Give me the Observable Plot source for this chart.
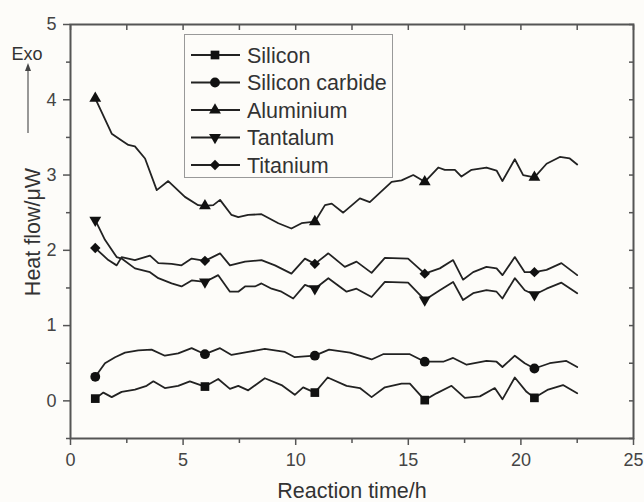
<!DOCTYPE html>
<html><head><meta charset="utf-8">
<script src="https://cdn.jsdelivr.net/npm/d3@7"></script>
<script src="https://cdn.jsdelivr.net/npm/@observablehq/plot@0.6"></script>
<style>
html,body{margin:0;padding:0;background:#fdfcf9;}
#chart{width:644px;height:502px;}
svg{overflow:visible}
</style></head><body><div id="chart"></div>
<script>
const seriesNames = ["Silicon", "Silicon carbide", "Aluminium", "Tantalum", "Titanium"];
const markerTimes = [1.1, 5.97, 10.85, 15.73, 20.6];
const xMajor = [0, 5, 10, 15, 20, 25];
const xMinor = [2.5, 7.5, 12.5, 17.5, 22.5];
const yMajor = [0, 1, 2, 3, 4, 5];
const yMinor = [-0.5, 0.5, 1.5, 2.5, 3.5, 4.5];
const xTitle = "Reaction time/h";
const yTitle = "Heat flow/\u03bcW";
const exoLabel = "Exo";

const silicon = [[1.1,0.03],[1.46,0.11],[1.83,0.05],[2.27,0.12],[2.86,0.15],[3.38,0.20],[3.68,0.26],[4.19,0.17],[4.78,0.20],[5.30,0.26],[5.97,0.19],[6.56,0.29],[7.08,0.16],[7.45,0.20],[7.89,0.14],[8.63,0.30],[9.37,0.21],[9.96,0.08],[10.33,0.18],[10.85,0.11],[11.42,0.31],[12.26,0.20],[12.85,0.17],[13.37,0.05],[13.96,0.18],[14.70,0.23],[15.07,0.23],[15.73,0.01],[16.25,0.10],[16.92,0.20],[17.51,0.04],[18.18,0.06],[18.84,0.17],[19.18,0.02],[19.73,0.31],[20.25,0.12],[20.6,0.04],[21.21,0.15],[21.87,0.21],[22.5,0.10]];
const siliconCarbide = [[1.1,0.32],[1.53,0.50],[1.98,0.58],[2.42,0.64],[3.01,0.67],[3.60,0.68],[4.19,0.60],[4.78,0.63],[5.38,0.70],[5.97,0.62],[6.64,0.70],[7.15,0.61],[7.89,0.65],[8.63,0.69],[9.52,0.65],[9.96,0.58],[10.85,0.60],[11.48,0.68],[12.41,0.64],[13.37,0.55],[13.88,0.62],[15.07,0.62],[15.73,0.52],[16.55,0.52],[16.99,0.57],[17.59,0.48],[18.47,0.53],[18.92,0.52],[19.18,0.45],[19.73,0.60],[20.17,0.50],[20.6,0.43],[21.28,0.50],[22.02,0.53],[22.5,0.45]];
const aluminium = [[1.1,4.02],[1.83,3.55],[2.27,3.46],[2.57,3.40],[2.86,3.38],[3.31,3.22],[3.83,2.80],[4.34,2.92],[5.08,2.71],[5.67,2.60],[5.97,2.59],[6.34,2.60],[6.64,2.67],[7.15,2.47],[7.45,2.44],[7.89,2.47],[8.48,2.48],[9.23,2.36],[9.81,2.29],[10.26,2.36],[10.85,2.38],[11.30,2.60],[11.6,2.62],[12.11,2.50],[12.85,2.69],[13.29,2.64],[14.26,2.91],[14.70,2.93],[15.22,3.00],[15.73,2.91],[16.33,3.10],[16.62,3.07],[17.07,3.07],[17.36,2.98],[17.81,3.07],[18.47,3.10],[18.92,3.06],[19.18,2.92],[19.73,3.21],[20.10,3.00],[20.6,2.97],[21.14,3.15],[21.73,3.24],[22.17,3.22],[22.5,3.14]];
const tantalum = [[1.1,2.40],[1.53,2.14],[2.05,1.91],[2.27,1.89],[2.86,1.76],[3.53,1.71],[3.90,1.63],[4.49,1.56],[4.93,1.52],[5.38,1.60],[5.97,1.58],[6.56,1.67],[7.08,1.45],[7.45,1.45],[7.75,1.52],[8.19,1.52],[8.48,1.56],[8.93,1.49],[9.37,1.45],[9.89,1.36],[10.41,1.54],[10.85,1.49],[11.45,1.63],[12.26,1.45],[12.70,1.49],[13.37,1.38],[13.96,1.58],[14.99,1.57],[15.73,1.34],[16.40,1.47],[16.99,1.58],[17.43,1.34],[17.88,1.43],[18.47,1.47],[18.92,1.45],[19.18,1.36],[19.73,1.63],[20.17,1.47],[20.6,1.41],[21.14,1.49],[21.80,1.57],[22.5,1.43]];
const titanium = [[1.1,2.03],[1.68,1.87],[2.05,1.80],[2.27,1.91],[2.86,1.87],[3.53,1.93],[3.90,1.83],[4.49,1.82],[4.93,1.80],[5.38,1.89],[5.97,1.86],[6.64,1.96],[7.08,1.80],[7.75,1.85],[8.48,1.87],[9.08,1.80],[9.81,1.69],[10.41,1.89],[10.85,1.82],[11.45,1.96],[12.18,1.78],[12.70,1.85],[13.37,1.70],[13.96,1.90],[14.99,1.89],[15.73,1.69],[16.40,1.76],[16.99,1.87],[17.43,1.61],[17.88,1.71],[18.47,1.78],[18.92,1.76],[19.18,1.67],[19.73,1.91],[20.17,1.71],[20.6,1.71],[21.14,1.74],[21.80,1.83],[22.5,1.67]];

const seriesData = [silicon, siliconCarbide, aluminium, tantalum, titanium];

const sqrt3 = Math.sqrt(3);
const triangleDown = {
  draw(context, size) {
    const y = -Math.sqrt(size / (sqrt3 * 3));
    context.moveTo(0, -y * 2);
    context.lineTo(-sqrt3 * y, y);
    context.lineTo(sqrt3 * y, y);
    context.closePath();
  }
};
const symbolTypes = [d3.symbolSquare, d3.symbolCircle, d3.symbolTriangle, triangleDown, d3.symbolDiamond2];
const symbolR = [4.9, 4.9, 4.4, 4.4, 4.7];

const rows = seriesData.flatMap((arr, i) => arr.map(([t, v]) => ({t, v, name: seriesNames[i]})));

const LINE = "#222";
const AX = "#555";
const FONT = "'Liberation Sans', Arial, Helvetica, sans-serif";
const fmt = d => String(d);

const plot = Plot.plot({
  width: 644, height: 502,
  marginLeft: 70, marginRight: 11, marginTop: 24, marginBottom: 64,
  x: {domain: [0, 25]},
  y: {domain: [-0.5, 5]},
  style: {background: "transparent", fontFamily: FONT, color: "#333", overflow: "visible"},
  marks: [
    Plot.axisX({ticks: xMajor, tickFormat: fmt, tickSize: 7, tickPadding: 8, fontSize: 18, stroke: AX, fill: "#444", strokeWidth: 1.5, label: null}),
    Plot.axisX({ticks: xMinor, tickSize: 5, stroke: AX, fill: "none", strokeWidth: 1.5, label: null}),
    Plot.axisX({anchor: "top", ticks: xMajor.concat(xMinor), tickSize: -5, stroke: AX, fill: "none", strokeWidth: 1.5, label: null}),
    Plot.axisY({ticks: yMajor, tickFormat: fmt, tickSize: 7, tickPadding: 7, fontSize: 18, stroke: AX, fill: "#444", strokeWidth: 1.5, label: null}),
    Plot.axisY({ticks: yMinor, tickSize: 4, stroke: AX, fill: "none", strokeWidth: 1.5, label: null}),
    Plot.axisY({anchor: "right", ticks: yMajor.concat(yMinor), tickSize: -5, stroke: AX, fill: "none", strokeWidth: 1.5, label: null}),
    Plot.frame({stroke: AX, strokeWidth: 2}),
    Plot.line(rows, {x: "t", y: "v", z: "name", stroke: LINE, strokeWidth: 1.8, strokeLinejoin: "round"}),
    ...seriesNames.map((name, i) => Plot.dot(rows.filter(d => d.name === name && markerTimes.includes(d.t)), {
      x: "t", y: "v", symbol: symbolTypes[i], r: symbolR[i], fill: "#111", stroke: "none"
    }))
  ]
});

document.getElementById("chart").appendChild(plot);

const svg = d3.select(plot);
// axis titles
svg.append("text").attr("x", 352).attr("y", 498).attr("text-anchor", "middle")
  .attr("font-family", FONT).attr("font-size", 21.5).attr("fill", "#333").text(xTitle);
svg.append("text").attr("transform", "translate(40,232) rotate(-90)").attr("text-anchor", "middle")
  .attr("font-family", FONT).attr("font-size", 21.5).attr("fill", "#333").text(yTitle);

// Exo arrow
svg.append("text").attr("x", 27).attr("y", 60).attr("text-anchor", "middle")
  .attr("font-family", FONT).attr("font-size", 18).attr("fill", "#333").text(exoLabel);
svg.append("line").attr("x1", 28).attr("x2", 28).attr("y1", 133).attr("y2", 70)
  .attr("stroke", "#555").attr("stroke-width", 1.2);
svg.append("path").attr("d", "M28,63 L25,71 L31,71 Z").attr("fill", "#444");

// legend
const lg = svg.append("g");
lg.append("rect").attr("x", 184.5).attr("y", 34.5).attr("width", 208).attr("height", 143)
  .attr("fill", "none").attr("stroke", "#999").attr("stroke-width", 1);
seriesNames.forEach((name, i) => {
  const cy = 55 + i * 27.5;
  lg.append("line").attr("x1", 191).attr("x2", 240).attr("y1", cy).attr("y2", cy)
    .attr("stroke", LINE).attr("stroke-width", 1.8);
  lg.append("path").attr("transform", `translate(215,${cy})`)
    .attr("d", d3.symbol(symbolTypes[i], Math.PI * symbolR[i] * symbolR[i])())
    .attr("fill", "#111");
  lg.append("text").attr("x", 247).attr("y", cy + 7.5).attr("text-anchor", "start").attr("font-family", FONT)
    .attr("font-size", 21.5).attr("fill", "#333").text(name);
});
</script>
</body></html>
